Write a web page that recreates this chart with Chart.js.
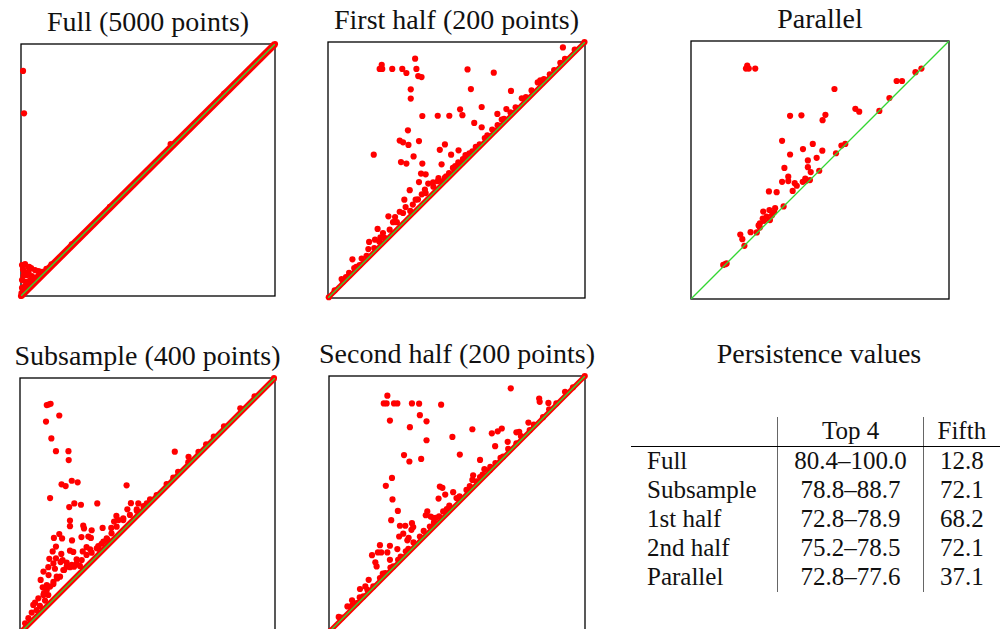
<!DOCTYPE html>
<html>
<head>
<meta charset="utf-8">
<script src="https://cdn.jsdelivr.net/npm/chart.js@4.4.1/dist/chart.umd.min.js"></script>
<style>
  body { margin: 0; background: #fff; }
  #page { position: relative; width: 1000px; height: 629px; overflow: hidden; font-family: 'Liberation Serif', 'DejaVu Serif', serif; color: #111; }
  .title { position: absolute; width: 400px; text-align: center; font-size: 28px; line-height: 28px; white-space: nowrap; }
  canvas { position: absolute; }
  #values { position: absolute; left: 631px; top: 417px; border-collapse: collapse; font-size: 25px; font-family: 'Liberation Serif', 'DejaVu Serif', serif; }
  #values td { padding: 0; height: 29px; line-height: 27px; vertical-align: top; white-space: nowrap; }
  #values thead td { height: 29px; border-bottom: 1.5px solid #000; }
  #values td.c1 { width: 131px; padding-left: 16px; text-align: left; }
  #values td.c2 { width: 145px; text-align: center; border-left: 1.3px solid #666; }
  #values td.c3 { width: 77px; text-align: center; border-left: 1.3px solid #666; }
</style>
</head>
<body>
<div id="page"></div>
<script>
// persistence pairs [birth, death], both axes 0..100
const diagonal = [0, 100];

const fullPairs = [
    [0, 0], [100, 100], [0.8, 89.3], [1.2, 72.5], [58.9, 60.3],
    [0.4, 12.3], [1.6, 12.7], [2.8, 11.5], [4.0, 11.1], [5.5, 10.3], [6.7, 9.9], [7.9, 8.7],
    [1.2, 9.5], [2.4, 8.3], [4.3, 7.9], [0.4, 6.3], [2.0, 5.6], [3.6, 6.3], [0.4, 3.2], [1.6, 4.0],
    [0.2, 1.2], [5.5, 7.1], [6.7, 7.9], [0.8, 10.5], [3.0, 9.5], [1.0, 8.0], [2.5, 3.5], [1.2, 2.0],
    [3.5, 4.8], [4.8, 6.0], [3.2, 11.6], [7.4, 9.7], [8.5, 9.6], [10, 10.8], [12, 12.6], [20, 20.5],
    [35, 35.4], [80, 80.3]
];

const firstHalfPairs = [
    [91.4, 97.9], [20.9, 91.1], [20.1, 89.5], [21.1, 89.5], [25.0, 89.5], [28.9, 89.5], [30.5, 87.9],
    [33.9, 93.5], [34.4, 89.5], [35.1, 86.7], [36.4, 86.3], [32.2, 81.5], [32.2, 77.9], [54.3, 89.3],
    [64.5, 88.0], [55.6, 81.6], [71.2, 80.9], [36.7, 71.1], [42.7, 71.2], [47.2, 71.2], [51.4, 73.7],
    [52.3, 71.4], [59.8, 74.6], [56.9, 68.4], [59.8, 66.7], [31.1, 65.5], [27.9, 61.5], [29.2, 60.8],
    [31.3, 59.8], [35.4, 61.3], [17.8, 56.0], [33.3, 55.3], [28.4, 53.1], [30.5, 52.5], [36.7, 52.5],
    [43.5, 57.9], [45.5, 60.0], [47.9, 56.0], [44.2, 52.2], [50.8, 57.7], [36.2, 48.6], [38.0, 48.3],
    [35.4, 45.3], [31.8, 42.1], [29.7, 38.4], [30.2, 35.5], [27.9, 33.7], [23.5, 31.9], [26.1, 31.6],
    [26.8, 29.6], [19.3, 27.0], [20.4, 23.7], [16.0, 21.9], [15.7, 19.1], [9.5, 15.1], [13.1, 15.4],
    [8.2, 9.8], [5.3, 7.4], [10.2, 11.7], [18.3, 22.8], [21.4, 25.4], [24.0, 26.7],
    [25.3, 29.6], [29.2, 33.2], [34.1, 38.4], [37.7, 42.3], [39.0, 44.7], [40.9, 45.2], [42.7, 45.6],
    [44.5, 45.6], [47.1, 48.8], [48.6, 50.8], [50.7, 53.0], [52.5, 54.3], [56.2, 57.3], [59.0, 60.0],
    [63.9, 65.8], [65.9, 71.9], [67.6, 69.7], [69.4, 73.8], [75.4, 78.0], [79.2, 81.1], [81.6, 84.2],
    [82.6, 85.0], [86.3, 87.4], [90.4, 91.9], [92.2, 93.4], [96.0, 97.0], [99.8, 100], [0.3, 0.3],
    [2.6, 3.0], [5.8, 6.3], [12.3, 12.9], [18, 19.5], [22, 23.5], [32, 34], [45.5, 47], [54, 55.5],
    [61, 62.5], [71, 72.5], [77, 78.5], [84, 85.5], [88, 89],
    [33, 36.5], [35, 38.5], [36.5, 40.5], [38, 41], [41, 43.5], [43, 46.8], [46, 47.5], [49.5, 51.5],
    [51.5, 52.5], [53.5, 55.8], [55, 56.5], [57.5, 59], [62, 63.5], [66, 67.5], [68.5, 70], [73, 74.5],
    [20, 22], [15, 16.5], [11, 12.2], [7, 8.2]
];

const parallelPairs = [
    [21.8, 90.5], [22.4, 89.3], [21.3, 89.3], [24.9, 89.3], [55.6, 81.4], [79.7, 84.5], [81.8, 84.5],
    [87.0, 87.9], [89.3, 89.3], [76.9, 77.9], [63.7, 73.7], [65.2, 72.6], [73.0, 72.9], [38.4, 71.0],
    [42.8, 71.2], [51.0, 69.3], [52.1, 71.4], [35.3, 61.3], [38.4, 56.0], [43.4, 58.1], [47.2, 60.1],
    [50.9, 57.5], [58.3, 59.5], [59.8, 60.1], [56.2, 56.5], [45.3, 53.7], [48.7, 54.7], [45.3, 51.1],
    [46.4, 49.2], [49.7, 49.7], [36.2, 50.8], [37.7, 47.4], [37.7, 45.7], [35.3, 45.4], [40.2, 44.9],
    [41.0, 43.9], [43.3, 45.4], [44.3, 46.7], [44.8, 45.9], [46.1, 46.1], [39.4, 41.9], [30.2, 41.7],
    [33.2, 41.4], [35.9, 35.9], [28.0, 33.9], [30.4, 34.5], [32.6, 35.2], [32.2, 33.7], [31.4, 32.5],
    [29.3, 31.9], [27.8, 31.2], [28.3, 30.3], [30.6, 30.6], [26.7, 29.3], [26.2, 28.5], [26.7, 27.7],
    [25.5, 25.8], [23.1, 25.9], [19.1, 25.0], [19.9, 23.2], [20.7, 20.6], [12.5, 13.2], [13.3, 13.5],
    [13.8, 13.8]
];

const subsamplePairs = [
    [10.5, 89.4], [12.0, 89.9], [11.2, 89.6], [15.4, 85.3], [10.2, 82.9], [12.3, 76.3], [14.1, 71.3],
    [19.0, 71.3], [19.1, 67.8], [60.7, 71.1], [66.1, 69.1], [86.4, 88.1], [99.6, 100], [0.4, 0.2],
    [16.3, 58.3], [17.9, 57.6], [20.3, 59.7], [22.6, 59.1], [41.8, 57.9], [11.8, 52.9],
    [21.3, 50.8], [23.9, 50.3], [19.3, 49.4], [30.3, 50.8], [43.5, 50.9], [46.4, 50.8], [42.1, 48.5],
    [45.8, 48.5], [49.7, 50.8], [37.8, 45.9], [36.9, 43.7], [38.7, 44.3], [40.5, 45.0], [35.8, 41.2],
    [32.4, 41.2], [19.6, 44.1], [19.6, 41.9], [24.8, 42.1], [25.1, 41.0], [28.1, 40.3],
    [15.4, 38.8], [13.3, 37.3], [16.5, 37.1], [20.4, 36.3], [24.1, 37.6], [26.8, 37.8], [27.8, 37.3],
    [26.1, 33.7], [27.5, 32.8], [24.6, 32.0], [14.1, 33.9], [19.6, 32.3], [20.9, 31.8],
    [30.7, 34.1], [32.7, 35.8], [34.4, 36.5], [31.4, 32.5],
    [12.8, 32.0], [16.2, 31.0], [11.5, 29.1], [14.1, 29.3], [16.7, 28.6], [22.2, 28.9], [13.1, 27.3],
    [15.9, 27.8], [18.3, 27.6], [21.2, 26.0], [9.2, 24.1], [11.1, 25.8], [13.7, 25.2], [11.2, 22.7],
    [14.6, 21.4], [17.3, 24.7], [19.6, 25.8], [23.5, 26.3], [8.1, 20.8], [10.5, 18.8], [8.9, 17.9],
    [13.1, 19.2], [15.7, 22.1], [9.4, 15.6], [11.1, 14.9], [7.2, 13.6], [5.9, 11.9], [5.2, 11.0],
    [9.8, 12.7], [7.8, 10.6], [4.6, 8.0], [6.5, 9.0], [3.3, 5.8], [2.0, 3.8],
    [26.1, 30.6], [28.1, 31.5], [30.1, 33.2], [32.0, 35.0], [34.0, 37.1], [35.9, 39.1], [37.9, 41.7],
    [40.5, 44.3], [43.1, 46.3], [45.8, 47.9], [48.4, 49.8], [51.0, 52.4], [53.6, 54.1], [57.5, 58.4],
    [60.1, 60.9], [17.0, 24.7], [18.3, 26.0], [20.3, 26.7], [22.2, 27.3], [24.2, 28.6], [14.4, 22.1],
    [13.1, 20.1], [11.8, 18.2], [10.5, 16.9], [9.2, 14.9],
    [62, 63.2], [66, 67], [70, 71], [73, 74], [76, 77], [80, 81], [92, 92.8]
];

const secondHalfPairs = [
    [71.0, 95.2], [22.8, 92.3], [21.4, 89.3], [22.5, 89.3], [25.4, 89.3], [26.7, 89.3], [32.4, 89.3],
    [35.2, 89.2], [43.8, 88.8], [23.8, 82.6], [31.6, 80.0], [35.5, 84.7], [38.1, 82.3], [38.1, 74.9],
    [48.2, 76.2], [56.0, 79.2], [63.6, 77.6], [65.9, 78.4], [67.5, 79.5], [82.1, 91.2], [82.3, 89.9],
    [85.7, 89.5], [92.2, 93.8], [29.3, 69.1], [31.4, 66.6], [36.0, 67.6], [51.1, 69.3], [64.9, 72.6],
    [69.8, 74.3], [73.2, 78.0], [74.3, 78.2], [77.9, 81.8], [59.0, 67.2], [60.7, 63.6], [56.3, 61.2],
    [56.0, 59.4], [24.6, 60.2], [22.2, 57.1], [43.3, 56.8], [44.3, 56.3], [45.4, 53.7], [42.8, 52.1],
    [48.5, 54.6], [24.8, 51.8], [26.9, 47.3], [24.3, 43.7], [27.7, 41.5], [29.8, 41.5], [32.4, 42.5],
    [32.9, 41.0], [32.2, 39.9], [38.4, 47.1], [37.8, 45.6], [39.7, 45.1], [40.7, 44.6], [41.7, 44.6],
    [29.0, 38.4], [31.1, 36.8], [27.4, 37.3], [30.6, 35.8], [26.7, 32.4], [23.8, 33.7], [19.9, 33.9],
    [20.4, 31.1], [19.1, 31.1], [16.8, 30.0], [18.1, 27.2], [18.6, 25.6], [22.8, 31.1], [23.8, 28.2],
    [15.5, 20.4], [14.2, 17.8], [12.1, 16.8], [9.0, 12.4], [7.2, 10.0], [3.8, 5.9],
    [10.8, 11.3], [13.4, 13.9], [17.3, 17.8], [19.9, 21.1], [22.0, 23.0], [25.1, 25.6], [35.5, 37.3],
    [39.4, 41.2], [44.6, 47.1], [49.8, 52.3], [53.7, 55.5], [57.6, 58.8], [62.8, 63.3], [68.0, 68.5],
    [73.2, 73.7], [78.4, 78.9], [83.6, 83.9], [88.8, 89.3], [95.3, 95.6], [99.9, 100], [0.4, 0.3],
    [5, 5.6], [28, 29.5], [31, 32.5], [46, 48], [60, 61.5], [65, 66],
    [9, 10.3], [12, 13.5], [15, 16.5], [21, 22.8], [24, 25.2], [27, 28.2], [30, 31.5], [33, 35],
    [37, 39.5], [41, 42.8], [43, 45.2], [47, 49.4], [51, 53], [55, 57], [59, 60.5], [63, 64.5],
    [67, 68], [70, 71.5], [75, 76.5], [80, 81], [86, 87]
];

// table
const tableHeader = ['', 'Top 4', 'Fifth'];
const tableRows = ['Full', 'Subsample', '1st half', '2nd half', 'Parallel'];
const top4Ranges = ['80.4–100.0', '78.8–88.7', '72.8–78.9', '75.2–78.5', '72.8–77.6'];
const fifthValues = ['12.8', '72.1', '68.2', '72.1', '37.1'];

const page = document.getElementById('page');
const PAD = 7;

// black box around the plot area
const framePlugin = {
    id: 'frame',
    beforeDatasetsDraw(chart) {
        const a = chart.chartArea;
        const ctx = chart.ctx;
        ctx.save();
        ctx.strokeStyle = '#000';
        ctx.lineWidth = 1.3;
        ctx.strokeRect(a.left, a.top, a.right - a.left, a.bottom - a.top);
        ctx.restore();
    }
};

function addTitle(text, cx, baseline) {
    const div = document.createElement('div');
    div.className = 'title';
    div.textContent = text;
    div.style.left = (cx - 200) + 'px';
    div.style.top = (baseline - 23) + 'px';
    page.appendChild(div);
}

function makePanel(pairs, title, box, band) {
    const [left, top, w, h] = box;
    addTitle(title, left + w / 2, top - 13);

    const canvas = document.createElement('canvas');
    canvas.width = w + 2 * PAD;
    canvas.height = h + 2 * PAD;
    canvas.style.left = (left - PAD) + 'px';
    canvas.style.top = (top - PAD) + 'px';
    page.appendChild(canvas);

    const diag = diagonal.map(v => ({x: v, y: v}));
    const datasets = [
        {
            data: diag,
            showLine: true,
            borderColor: '#33d633',
            borderWidth: 1.3,
            pointRadius: 0,
            order: 0
        },
        {
            data: pairs.map(p => ({x: p[0], y: p[1]})),
            backgroundColor: '#ff0000',
            borderWidth: 0,
            pointRadius: 3.1,
            clip: false,
            order: 1
        }
    ];
    if (band > 0) {
        datasets.push({
            data: diag,
            showLine: true,
            borderColor: '#ff0000',
            borderWidth: band,
            pointRadius: 0,
            clip: false,
            order: 2
        });
    }

    new Chart(canvas.getContext('2d'), {
        type: 'scatter',
        data: { datasets: datasets },
        options: {
            responsive: false,
            animation: false,
            events: [],
            layout: { padding: PAD },
            plugins: {
                legend: { display: false },
                tooltip: { enabled: false }
            },
            scales: {
                x: { type: 'linear', min: 0, max: 100, display: false },
                y: { type: 'linear', min: 0, max: 100, display: false }
            }
        },
        plugins: [framePlugin]
    });
}

makePanel(fullPairs, 'Full (5000 points)', [21, 44, 254, 252], 7);
makePanel(firstHalfPairs, 'First half (200 points)', [328, 42, 257, 256], 5);
makePanel(parallelPairs, 'Parallel', [691, 41, 258, 258], 0);
makePanel(subsamplePairs, 'Subsample (400 points)', [20, 378, 255, 255], 5.5);
makePanel(secondHalfPairs, 'Second half (200 points)', [329, 376, 256, 256], 5);

// table of persistence values
addTitle('Persistence values', 819, 363);

const table = document.createElement('table');
table.id = 'values';
const thead = document.createElement('thead');
const hr = document.createElement('tr');
tableHeader.forEach((t, i) => {
    const td = document.createElement('td');
    td.className = 'c' + (i + 1);
    td.textContent = t;
    hr.appendChild(td);
});
thead.appendChild(hr);
table.appendChild(thead);
const tbody = document.createElement('tbody');
tableRows.forEach((name, i) => {
    const tr = document.createElement('tr');
    [name, top4Ranges[i], fifthValues[i]].forEach((t, j) => {
        const td = document.createElement('td');
        td.className = 'c' + (j + 1);
        td.textContent = t;
        tr.appendChild(td);
    });
    tbody.appendChild(tr);
});
table.appendChild(tbody);
page.appendChild(table);
</script>
</body>
</html>
